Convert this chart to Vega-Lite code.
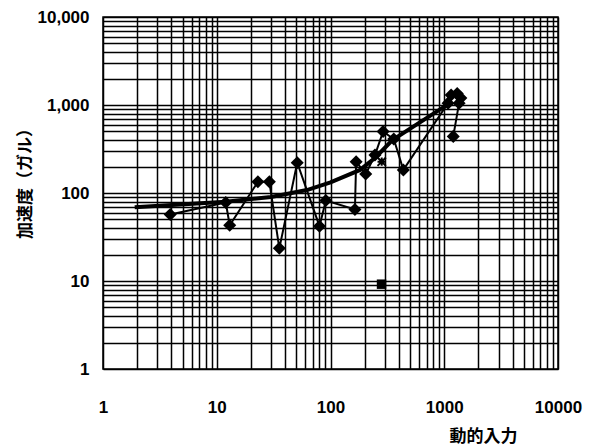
{
  "$schema": "https://vega.github.io/schema/vega-lite/v6.json",
  "width": 455,
  "height": 352,
  "autosize": "none",
  "padding": {"left": 103, "top": 17, "right": 47, "bottom": 78},
  "background": "white",
  "config": {
    "view": {"stroke": "black", "strokeWidth": 1.5},
    "axis": {
      "grid": true,
      "gridColor": "black",
      "gridWidth": 1.5,
      "gridOpacity": 1,
      "ticks": false,
      "domain": false,
      "labelFont": "Liberation Sans",
      "labelFontWeight": "bold",
      "labelFontSize": 17,
      "labelColor": "black",
      "labelFlush": false,
      "labelOverlap": false,
      "titleFont": "Noto Sans CJK JP",
      "titleFontWeight": "bold",
      "titleFontSize": 17,
      "titleColor": "black"
    }
  },
  "datasets": {
    "measured": [
      {"i": 1, "x": 3.9, "y": 57},
      {"i": 2, "x": 12, "y": 78},
      {"i": 3, "x": 13, "y": 43},
      {"i": 4, "x": 23, "y": 134},
      {"i": 5, "x": 29, "y": 134},
      {"i": 6, "x": 35.5, "y": 23.5},
      {"i": 7, "x": 51, "y": 221},
      {"i": 8, "x": 80, "y": 42},
      {"i": 9, "x": 91, "y": 82},
      {"i": 10, "x": 164, "y": 65},
      {"i": 11, "x": 168, "y": 227},
      {"i": 12, "x": 204, "y": 164},
      {"i": 13, "x": 246, "y": 270},
      {"i": 14, "x": 290, "y": 500},
      {"i": 15, "x": 360, "y": 410},
      {"i": 16, "x": 437, "y": 183},
      {"i": 17, "x": 1080, "y": 1050},
      {"i": 18, "x": 1150, "y": 1300},
      {"i": 19, "x": 1300, "y": 1350},
      {"i": 20, "x": 1400, "y": 1200},
      {"i": 21, "x": 1350, "y": 1050},
      {"i": 22, "x": 1200, "y": 440}
    ],
    "trend": [
      {"x": 1.9, "y": 68.7},
      {"x": 12, "y": 79.6},
      {"x": 30, "y": 90},
      {"x": 62, "y": 108},
      {"x": 100, "y": 132},
      {"x": 182, "y": 183},
      {"x": 250, "y": 255},
      {"x": 350, "y": 400},
      {"x": 1120, "y": 1050}
    ],
    "square": [{"x": 281, "y": 9.2}],
    "star": [{"x": 282, "y": 227}]
  },
  "encoding": {
    "x": {
      "field": "x", "type": "quantitative",
      "scale": {"type": "log", "domain": [1, 10000], "nice": false},
      "axis": {
        "values": [1,2,3,4,5,6,7,8,9,10,20,30,40,50,60,70,80,90,100,200,300,400,500,600,700,800,900,1000,2000,3000,4000,5000,6000,7000,8000,9000,10000],
        "labelExpr": "indexof([1,10,100,1000,10000], datum.value) >= 0 ? format(datum.value, 'd') : ''",
        "labelPadding": 30,
        "title": "動的入力",
        "titleX": 380,
        "titleY": 67,
        "titleAlign": "center",
        "titleBaseline": "middle"
      }
    },
    "y": {
      "field": "y", "type": "quantitative",
      "scale": {"type": "log", "domain": [1, 10000], "nice": false},
      "axis": {
        "values": [1,2,3,4,5,6,7,8,9,10,20,30,40,50,60,70,80,90,100,200,300,400,500,600,700,800,900,1000,2000,3000,4000,5000,6000,7000,8000,9000,10000],
        "labelExpr": "indexof([1,10,100,1000,10000], datum.value) >= 0 ? format(datum.value, ',') : ''",
        "labelPadding": 14,
        "title": "加速度（ガル）",
        "titleX": -78,
        "titleY": 162,
        "titleAngle": -90,
        "titleAlign": "center",
        "titleBaseline": "middle"
      }
    }
  },
  "layer": [
    {
      "data": {"name": "measured"},
      "mark": {"type": "line", "color": "black", "strokeWidth": 2},
      "encoding": {"order": {"field": "i", "type": "quantitative"}}
    },
    {
      "data": {"name": "measured"},
      "mark": {"type": "point", "shape": "diamond", "filled": true, "color": "black", "opacity": 1, "size": 170}
    },
    {
      "data": {"name": "trend"},
      "mark": {"type": "line", "color": "black", "strokeWidth": 4}
    },
    {
      "data": {"name": "square"},
      "mark": {"type": "point", "shape": "square", "filled": true, "color": "black", "opacity": 1, "size": 90}
    },
    {
      "data": {"name": "star"},
      "mark": {"type": "point", "shape": "M-1,-1L1,1M-1,1L1,-1M0,-1L0,1M-1,0L1,0", "filled": false, "color": "black", "opacity": 1, "size": 70, "strokeWidth": 2}
    }
  ]
}
